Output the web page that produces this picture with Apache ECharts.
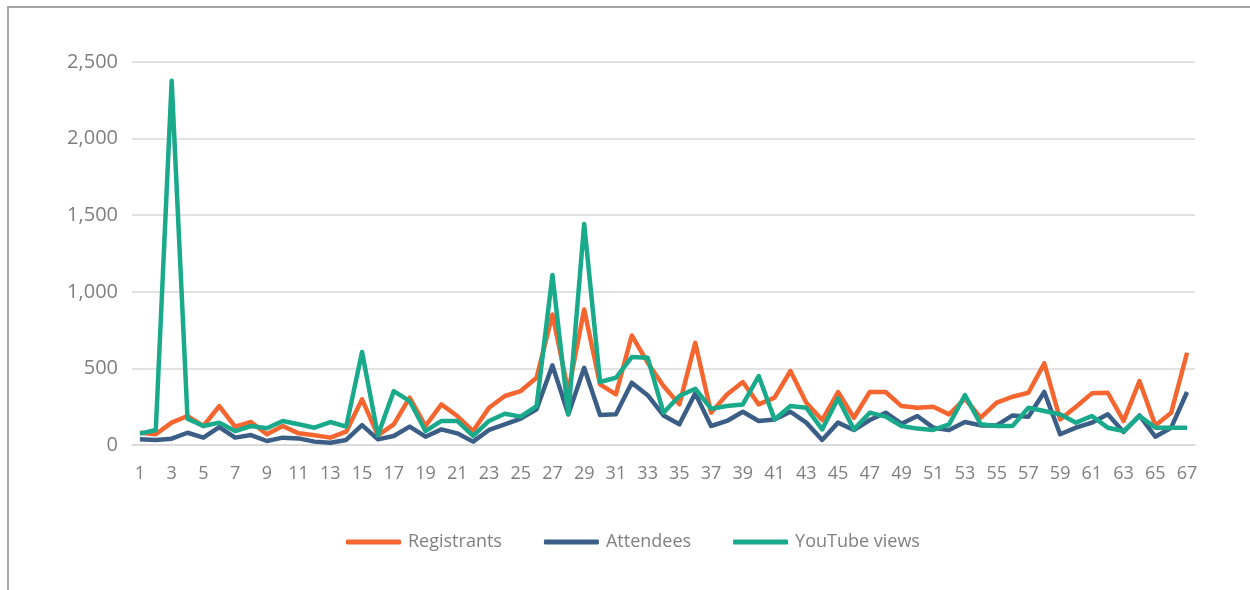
<!DOCTYPE html>
<html>
<head>
<meta charset="utf-8">
<script src="https://cdn.jsdelivr.net/npm/echarts@6/dist/echarts.min.js"></script>
<style>
  html, body { margin: 0; padding: 0; background: #fff; }
  #main { width: 1250px; height: 590px; }
  .frame {
    position: absolute; left: 7px; top: 6px; right: 0; bottom: 0;
    border-left: 2px solid #a6a6a6; border-top: 2px solid #a6a6a6;
    pointer-events: none;
  }
</style>
</head>
<body>
<div id="main"></div>
<div class="frame"></div>
<script>
// session numbers 1..67
const categories = Array.from({ length: 67 }, (_, i) => String(i + 1));

const registrants = [
  80, 70, 146, 189, 124, 254, 120, 150, 70, 124,
  76, 63, 48, 87, 298, 63, 135, 309, 124, 265,
  189, 91, 243, 320, 352, 439, 852, 350, 885, 396,
  330, 715, 537, 385, 265, 667, 211, 330, 411, 265,
  309, 483, 276, 163, 346, 178, 346, 346, 254, 243,
  250, 200, 302, 178, 276, 315, 341, 533, 167, 250,
  337, 341, 157, 417, 128, 211, 602
];

const attendees = [
  37, 33, 41, 80, 48, 117, 48, 65, 26, 48,
  43, 22, 15, 33, 130, 37, 59, 120, 54, 102,
  76, 22, 98, 135, 172, 233, 520, 200, 504, 196,
  200, 407, 325, 193, 135, 337, 124, 157, 217, 157,
  167, 217, 146, 33, 146, 98, 163, 211, 139, 189,
  113, 98, 150, 128, 128, 193, 185, 346, 70, 113,
  146, 200, 85, 193, 54, 113, 346
];

const youtubeViews = [
  74, 98, 2377, 172, 124, 146, 91, 124, 109, 157,
  135, 113, 150, 120, 607, 63, 352, 287, 91, 157,
  157, 59, 157, 204, 185, 254, 1110, 200, 1443, 411,
  439, 574, 570, 211, 320, 367, 237, 254, 265, 450,
  167, 254, 243, 102, 304, 102, 211, 185, 124, 107,
  98, 135, 326, 135, 124, 124, 243, 222, 200, 146,
  189, 113, 91, 189, 113, 113, 113
];

const textColor = "#7f7f7f";
const font = "Open Sans";

let myChart = echarts.init(document.getElementById("main"));

function lineSeries(name, data, color) {
  return {
    name: name,
    type: "line",
    data: data,
    symbol: "none",
    lineStyle: { width: 4.5, color: color, join: "round" },
    itemStyle: { color: color },
    animation: false
  };
}

let option = {
  animation: false,
  grid: { left: 132, right: 55, top: 62, bottom: 145 },
  legend: {
    top: 528,
    left: 341,
    itemWidth: 55,
    itemHeight: 5,
    itemGap: 42,
    icon: "roundRect",
    textStyle: { color: textColor, fontSize: 18, fontFamily: font, padding: [0, 0, 0, 2] },
    data: ["Registrants", "Attendees", "YouTube views"]
  },
  xAxis: {
    type: "category",
    boundaryGap: true,
    data: categories,
    axisLine: { show: true, lineStyle: { color: "#d9d9d9", width: 1.5 } },
    axisTick: { show: false },
    axisLabel: { interval: 1, color: textColor, fontSize: 18, fontFamily: font, margin: 20 }
  },
  yAxis: {
    type: "value",
    min: 0,
    max: 2500,
    interval: 500,
    axisLine: { show: false },
    axisTick: { show: false },
    splitLine: { lineStyle: { color: "#d9d9d9", width: 1.5 } },
    axisLabel: {
      color: textColor, fontSize: 20, fontFamily: font, margin: 14,
      formatter: v => v.toLocaleString("en-US")
    }
  },
  series: [
    lineSeries("Registrants", registrants, "#f4652f"),
    lineSeries("Attendees", attendees, "#3b5e86"),
    lineSeries("YouTube views", youtubeViews, "#19aa8b")
  ]
};

myChart.setOption(option);
</script>
</body>
</html>
